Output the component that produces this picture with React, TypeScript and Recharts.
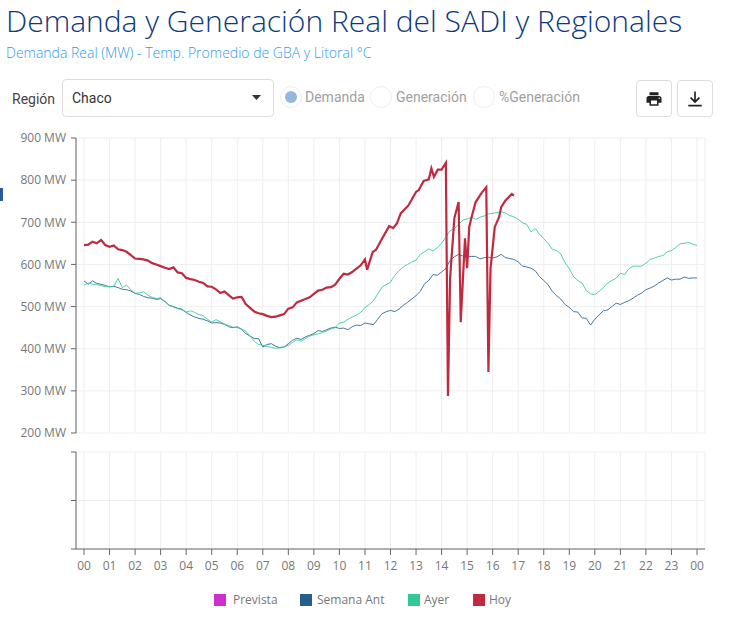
import { LineChart, Line, XAxis, YAxis, CartesianGrid } from "recharts";

const TICKS_X = [0,60,120,180,240,300,360,420,480,540,600,660,720,780,840,900,960,1020,1080,1140,1200,1260,1320,1380,1440];
const TICKS_MW = [200,300,400,500,600,700,800,900];
const TICKS_VACIO = [0,1,2];

const LEYENDA = [
  { name: "Prevista", color: "#cc2fce", box: 214, text: 233 },
  { name: "Semana Ant", color: "#255f8e", box: 300, text: 317 },
  { name: "Ayer", color: "#33c995", box: 408, text: 424 },
  { name: "Hoy", color: "#bf2a3e", box: 473, text: 489 },
];

// cada 10 min, de 00:00 a 24:00
const SEMANA_ANT = [
  561,553,561,555,553,550,
  547,548,545,541,540,537,
  531,529,524,521,520,517,
  519,512,503,500,496,494,
  486,480,475,472,470,466,
  461,462,461,458,452,450,
  452,446,436,430,424,424,
  404,410,412,406,402,404,
  412,420,425,422,428,432,
  436,443,441,445,449,451,
  448,449,445,452,456,455,
  461,459,457,470,483,488,
  491,488,494,503,510,518,
  526,536,554,562,576,574,
  582,590,610,618,624,620,
  618,619,619,613,616,617,
  615,618,624,616,614,612,
  606,596,594,591,585,571,
  562,552,536,526,518,505,
  498,488,487,473,472,456,
  470,480,490,492,500,508,
  505,510,514,520,527,532,
  540,544,549,556,562,568,
  563,565,565,570,567,568,
  568,
];

const AYER = [
  551,556,553,552,550,547,
  547,548,567,545,551,540,
  531,533,535,527,522,519,
  521,512,503,499,495,492,
  487,490,486,481,478,470,
  463,469,464,458,455,451,
  450,447,442,430,418,410,
  408,405,403,401,402,405,
  408,415,421,418,424,430,
  433,435,438,442,447,450,
  461,463,470,475,480,486,
  498,505,514,530,546,552,
  558,574,585,594,600,606,
  610,624,630,637,632,640,
  650,665,680,685,695,705,
  708,712,707,712,715,720,
  721,723,725,722,716,713,
  707,699,695,677,685,672,
  661,650,636,633,625,604,
  590,571,562,556,538,530,
  528,536,545,556,562,567,
  579,576,590,596,596,596,
  603,612,615,619,621,630,
  633,640,649,650,652,648,
  645,
];

// hoy: minutos irregulares, el dato se corta a las 16:50
const HOY_MIN = [
  0,10,20,30,40,50,60,70,80,90,100,110,120,130,140,150,160,170,180,190,200,210,220,230,
  240,250,260,270,280,290,300,310,320,330,340,350,360,370,380,390,400,410,420,430,440,450,460,470,
  480,490,500,510,520,530,540,550,560,570,580,590,600,610,620,630,640,650,660,665,678,686,700,717,
  726,735,744,762,780,786,798,810,816,822,831,840,850,855,860,870,880,885,895,900,905,910,920,935,
  945,950,955,965,975,980,990,1005,1010,
];
const HOY = [
  646,647,654,650,658,646,642,645,636,634,630,622,614,613,612,609,603,600,596,592,589,593,581,579,
  568,565,563,559,556,548,547,541,532,536,527,519,522,523,506,497,488,484,482,478,475,476,479,482,
  495,498,510,514,518,522,530,538,540,545,546,552,566,578,576,582,590,598,612,587,629,635,661,691,
  686,697,721,740,772,776,798,802,828,808,825,825,841,288,567,710,748,463,662,591,689,710,748,771,
  783,345,591,689,712,736,752,767,763,
];

const toSerie = (vals: number[]) => vals.map((v, i) => ({ min: i * 10, v }));
const dataSemana = toSerie(SEMANA_ANT);
const dataAyer = toSerie(AYER);
const dataHoy = HOY.map((v, i) => ({ min: HOY_MIN[i], v }));
const dataVacio = TICKS_X.map((min) => ({ min, v: null }));

const AXIS = "#666";
const GRID = "#eeeeee";
const tickStyle = { fontSize: 12, fill: "#777", fontFamily: "'Open Sans'" };
const roboto = "Roboto";

function Radio({ x, on }: { x: number; on?: boolean }) {
  return (
    <div style={{ position: "absolute", left: x - 11, top: 86, width: 20, height: 20, borderRadius: "50%", border: "1px solid #eee", background: "#fff" }}>
      {on && <div style={{ position: "absolute", left: 4, top: 4, width: 12, height: 12, borderRadius: "50%", background: "#94b8dc" }} />}
    </div>
  );
}

function Label({ x, y, size, color, font, weight, children }: any) {
  return (
    <div style={{ position: "absolute", left: x, top: y, fontSize: size, color, fontFamily: font, fontWeight: weight, whiteSpace: "nowrap", lineHeight: 1 }}>
      {children}
    </div>
  );
}

function IconBtn({ x, path, size }: { x: number; path: string; size: number }) {
  const off = (34 - size) / 2;
  return (
    <div style={{ position: "absolute", left: x, top: 80, width: 34, height: 35, border: "1px solid #ddd", borderRadius: 4, background: "#fff" }}>
      <svg width={size} height={size} viewBox="0 0 24 24" style={{ position: "absolute", left: off, top: off + 1 }}>
        <path d={path} fill="#222" />
      </svg>
    </div>
  );
}

export default function App() {
  return (
    <div style={{ position: "absolute", left: 0, top: 0, width: 731, height: 623, background: "#fff", overflow: "hidden" }}>
      <Label x={6} y={6} size={30} color="#0b3a82" font="'Open Sans'" weight={300}>Demanda y Generación Real del SADI y Regionales</Label>
      <Label x={6} y={46} size={14} color="#2f9bf0" font="'Open Sans'" weight={300}>Demanda Real (MW) - Temp. Promedio de GBA y Litoral °C</Label>

      <Label x={12} y={92} size={14} color="#444" font={roboto}>Región</Label>
      <div style={{ position: "absolute", left: 62, top: 79, width: 210, height: 36, border: "1px solid #ddd", borderRadius: 4, background: "#fff" }} />
      <Label x={72} y={91} size={14} color="#333" font={roboto}>Chaco</Label>
      <svg width="10" height="6" style={{ position: "absolute", left: 252, top: 95 }}><path d="M0 0 L9 0 L4.5 5 Z" fill="#333" /></svg>

      <Radio x={291} on />
      <Label x={305} y={90} size={14} color="#a0a0a0" font={roboto}>Demanda</Label>
      <Radio x={381} />
      <Label x={396} y={90} size={14} color="#a0a0a0" font={roboto}>Generación</Label>
      <Radio x={484} />
      <Label x={499} y={90} size={14} color="#a0a0a0" font={roboto}>%Generación</Label>

      <IconBtn x={636} size={18} path="M19 8H5c-1.66 0-3 1.34-3 3v6h4v4h12v-4h4v-6c0-1.66-1.34-3-3-3zm-3 11H8v-5h8v5zm3-7c-.55 0-1-.45-1-1s.45-1 1-1 1 .45 1 1-.45 1-1 1zm-1-9H6v4h12V3z" />
      <IconBtn x={677} size={20} path="M11 3h2v10.2l3.6-3.6L18 11l-6 6-6-6 1.4-1.4 3.6 3.6zM4 19h16v2H4z" />

      <div style={{ position: "absolute", left: 0, top: 188, width: 3, height: 13, background: "#2a5a9a" }} />

      <div style={{ position: "absolute", left: 0, top: 130 }}>
        <LineChart width={731} height={310} margin={{ top: 8, right: 26, bottom: 7, left: 0 }}>
          <CartesianGrid stroke={GRID} />
          <XAxis hide type="number" dataKey="min" domain={[0, 1440]} ticks={TICKS_X} interval={0} padding={{ left: 8, right: 8 }} allowDataOverflow />
          <YAxis
            width={76} type="number" domain={[200, 900]} ticks={TICKS_MW} interval={0}
            tick={tickStyle} tickLine={{ stroke: AXIS }} axisLine={{ stroke: AXIS, strokeWidth: 1 }}
            tickSize={5} tickMargin={5} tickFormatter={(v: number) => `${v} MW`}
          />
          <Line data={dataSemana} dataKey="v" name="Semana Ant" type="linear" stroke="#255f8e" strokeOpacity={0.85} strokeWidth={1} dot={false} isAnimationActive={false} />
          <Line data={dataAyer} dataKey="v" name="Ayer" type="linear" stroke="#33c995" strokeOpacity={0.85} strokeWidth={1} dot={false} isAnimationActive={false} />
          <Line data={dataHoy} dataKey="v" name="Hoy" type="linear" stroke="#bf2a3e" strokeWidth={2.2} dot={false} isAnimationActive={false} />
        </LineChart>
      </div>

      <div style={{ position: "absolute", left: 0, top: 445 }}>
        <LineChart width={731} height={135} data={dataVacio} margin={{ top: 7, right: 26, bottom: 0, left: 0 }}>
          <CartesianGrid stroke={GRID} />
          <XAxis
            type="number" dataKey="min" domain={[0, 1440]} ticks={TICKS_X} interval={0} padding={{ left: 8, right: 8 }} height={31}
            tick={tickStyle} tickLine={{ stroke: AXIS }} axisLine={{ stroke: AXIS }} tickSize={6} tickMargin={6}
            tickFormatter={(v: number) => String((v / 60) % 24).padStart(2, "0")}
          />
          <YAxis
            width={76} type="number" domain={[0, 2]} ticks={TICKS_VACIO} interval={0} allowDataOverflow
            tick={tickStyle} tickLine={{ stroke: AXIS }} axisLine={{ stroke: AXIS }} tickSize={5} tickFormatter={() => ""}
          />
          <Line dataKey="v" name="Prevista" stroke="#cc2fce" dot={false} isAnimationActive={false} />
        </LineChart>
      </div>

      {LEYENDA.map((l) => (
        <div key={l.name}>
          <div style={{ position: "absolute", left: l.box, top: 594, width: 12, height: 12, background: l.color }} />
          <Label x={l.text} y={594} size={12} color="#777" font="'Open Sans'">{l.name}</Label>
        </div>
      ))}
    </div>
  );
}
